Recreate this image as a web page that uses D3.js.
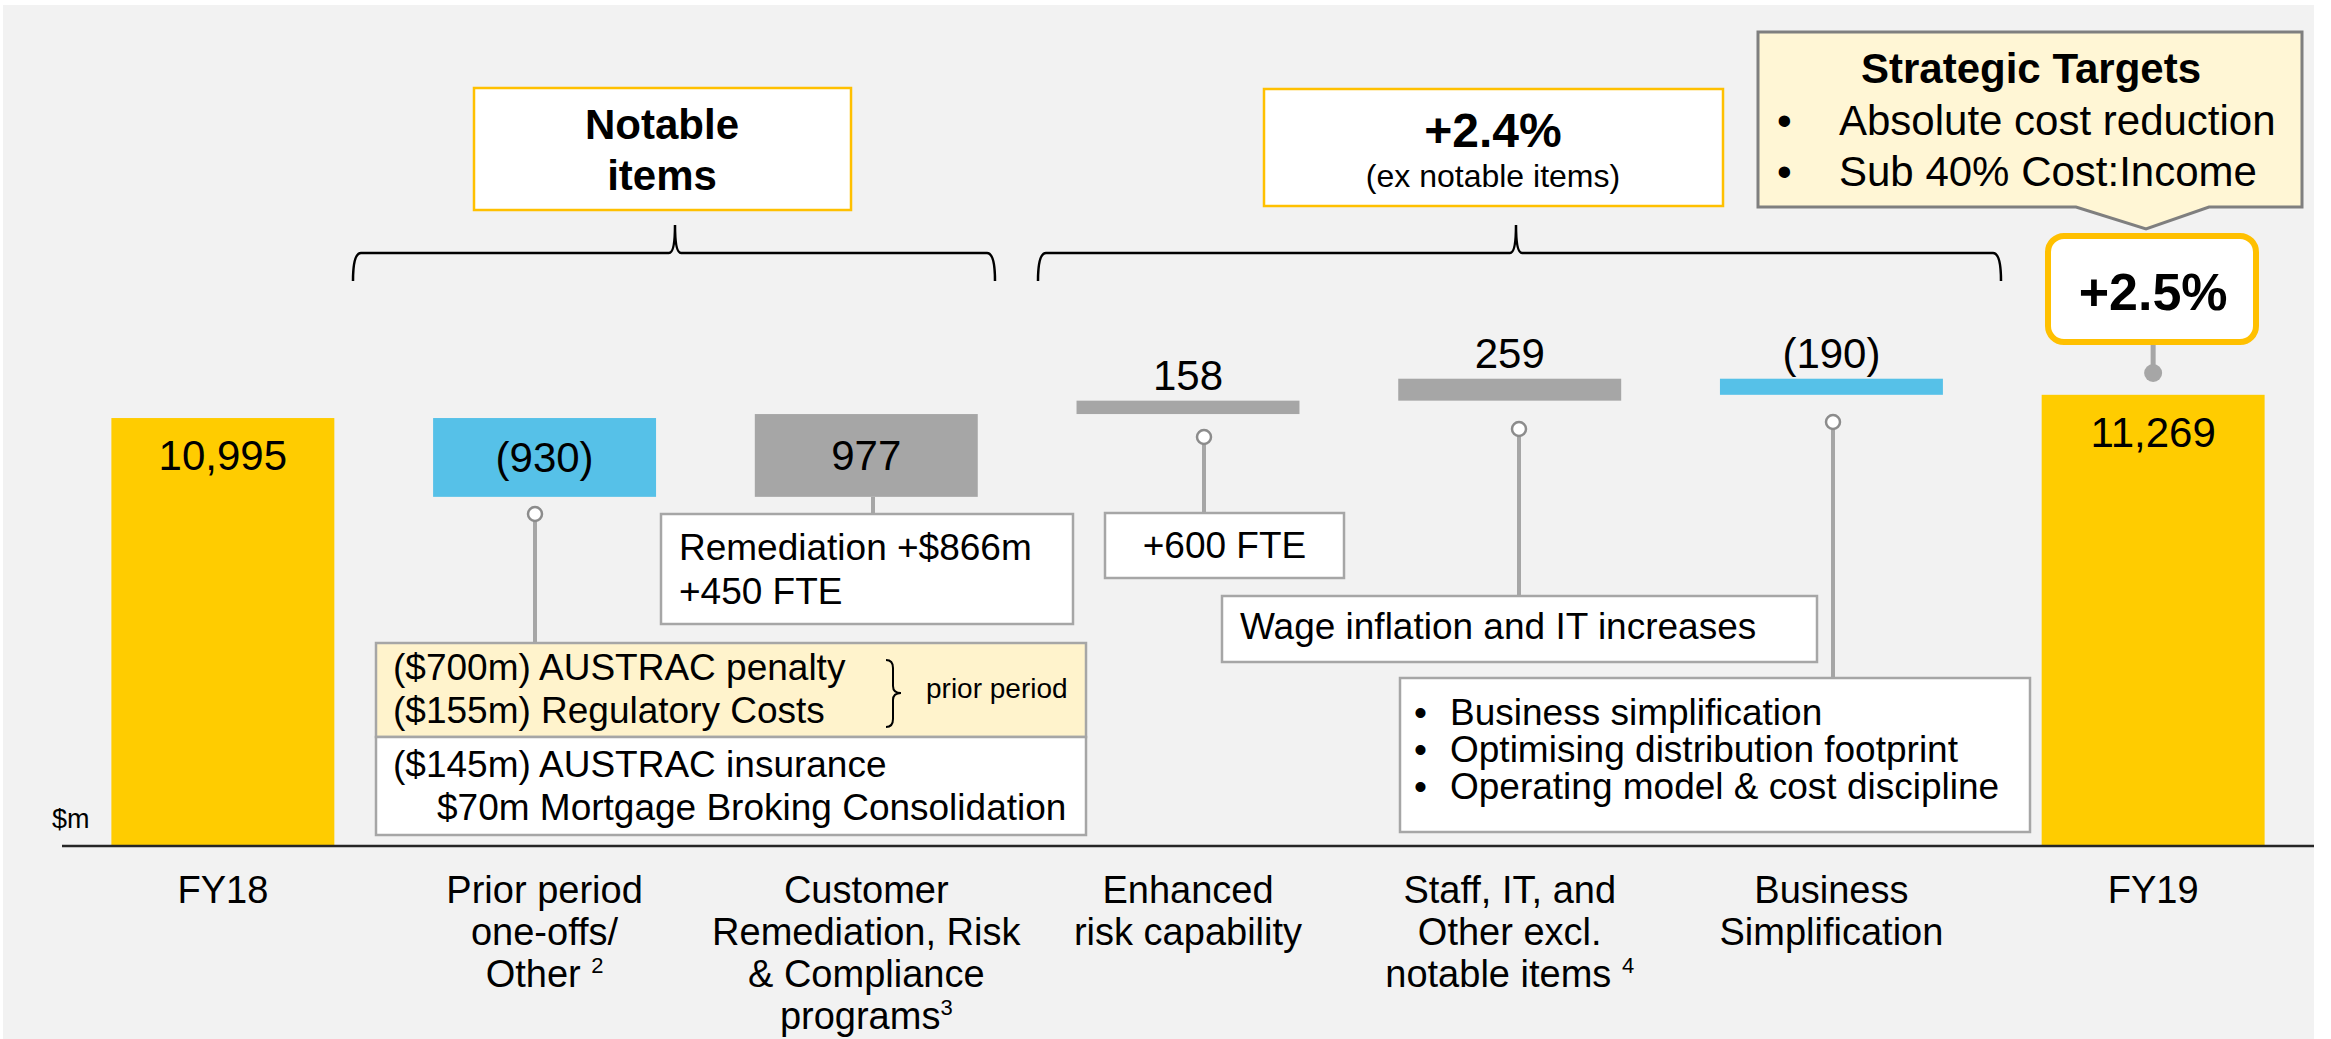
<!DOCTYPE html>
<html>
<head>
<meta charset="utf-8">
<script src="https://cdnjs.cloudflare.com/ajax/libs/d3/7.8.5/d3.min.js"></script>
<style>
  body { margin: 0; background: #ffffff; }
  svg text { font-family: "Liberation Sans", Arial, sans-serif; fill: #000; }
</style>
</head>
<body>
<div id="canvas"></div>
<script>
"use strict"

// DATA
let categories = ["FY18", "Prior period", "Customer Remediation", "Enhanced risk", "Staff IT Other", "Business Simplification", "FY19"]
let values = [10995, -930, 977, 158, 259, -190, 11269]
let kinds = ["total", "step", "step", "step", "step", "step", "total"]
let valueLabels = ["10,995", "(930)", "977", "158", "259", "(190)", "11,269"]
let tickLines = [
  ["FY18"],
  ["Prior period", "one-offs/", "Other "],
  ["Customer", "Remediation, Risk", "& Compliance", "programs"],
  ["Enhanced", "risk capability"],
  ["Staff, IT, and", "Other excl.", "notable items "],
  ["Business", "Simplification"],
  ["FY19"]
]
let tickNotes = [null, "2", "3", null, "4", null, null]

/* Configuration variables: drawing */
let svgWidth = 2331
let svgHeight = 1039
let baseY = 846
let axisFloor = 5945      // the value axis is cut, bars start here
let pxPerUnit = 1 / 11.8
let boxFont = 37

let svg = d3.select("#canvas")
  .append("svg")
  .attr("width", svgWidth)
  .attr("height", svgHeight)

// background panel
svg.append("rect")
  .attr("x", 3)
  .attr("y", 5)
  .attr("width", 2311)
  .attr("height", svgHeight - 5)
  .attr("fill", "#f2f2f2")

// SCALES
let xScale = d3.scaleBand()
  .domain(categories)
  .range([62, 2314])
  .paddingInner(0.307)
  .paddingOuter(0.1535)

let yScale = d3.scaleLinear()
  .domain([axisFloor, 11500])
  .range([baseY, baseY - (11500 - axisFloor) * pxPerUnit])

// waterfall start / end for every bar
let bars = []
let running = 0
for (let i = 0; i < values.length; i++) {
  if (kinds[i] == "total") {
    bars.push({ cat: categories[i], from: axisFloor, to: values[i], kind: "total", v: values[i], label: valueLabels[i] })
    running = values[i]
  } else {
    bars.push({ cat: categories[i], from: running, to: running + values[i], kind: "step", v: values[i], label: valueLabels[i] })
    running = running + values[i]
  }
}

function barColor(d) {
  if (d.kind == "total") return "#ffcc00"
  if (d.v < 0) return "#56c1e8"
  return "#a6a6a6"
}

// DRAW BARS
svg.selectAll("rect.bar")
  .data(bars)
  .join("rect")
  .attr("class", "bar")
  .attr("x", d => xScale(d.cat))
  .attr("width", xScale.bandwidth())
  .attr("y", d => yScale(Math.max(d.from, d.to)))
  .attr("height", d => Math.abs(yScale(d.from) - yScale(d.to)))
  .attr("fill", barColor)

// value labels
svg.selectAll("text.val")
  .data(bars)
  .join("text")
  .attr("class", "val")
  .attr("x", d => xScale(d.cat) + xScale.bandwidth() / 2)
  .attr("y", function (d) {
    let top = yScale(Math.max(d.from, d.to))
    let bottom = yScale(Math.min(d.from, d.to))
    if (d.kind == "total") return top + 52
    if (Math.abs(d.v) > 500) return (top + bottom) / 2 + 15
    return top - 11
  })
  .attr("text-anchor", "middle")
  .style("font-size", "42px")
  .text(d => d.label)

// AXIS LINE
svg.append("line")
  .attr("x1", 62)
  .attr("x2", 2314)
  .attr("y1", baseY)
  .attr("y2", baseY)
  .attr("stroke", "#262626")
  .attr("stroke-width", 2.5)

svg.append("text")
  .attr("x", 52)
  .attr("y", 828)
  .style("font-size", "27px")
  .text("$m")

// category labels
for (let i = 0; i < categories.length; i++) {
  let cx = xScale(categories[i]) + xScale.bandwidth() / 2
  let t = svg.append("text")
    .attr("text-anchor", "middle")
    .style("font-size", "38px")
  for (let j = 0; j < tickLines[i].length; j++) {
    t.append("tspan")
      .attr("x", cx)
      .attr("y", 903 + j * 42)
      .text(tickLines[i][j])
    if (j == tickLines[i].length - 1 && tickNotes[i]) {
      t.append("tspan")
        .attr("dy", -14)
        .style("font-size", "22px")
        .text(tickNotes[i])
    }
  }
}

// HELPERS FOR ANNOTATIONS
function box(x, y, w, h, fill, stroke, sw) {
  svg.append("rect")
    .attr("x", x).attr("y", y)
    .attr("width", w).attr("height", h)
    .attr("fill", fill)
    .attr("stroke", stroke)
    .attr("stroke-width", sw)
}

function label(x, y, txt, size, anchor, weight) {
  return svg.append("text")
    .attr("x", x).attr("y", y)
    .attr("text-anchor", anchor || "start")
    .style("font-size", size + "px")
    .style("font-weight", weight || "normal")
    .text(txt)
}

function connector(x, y1, y2, withCircle) {
  svg.append("line")
    .attr("x1", x).attr("x2", x)
    .attr("y1", y1).attr("y2", y2)
    .attr("stroke", "#a6a6a6")
    .attr("stroke-width", 4)
  if (withCircle) {
    svg.append("circle")
      .attr("cx", x).attr("cy", y1)
      .attr("r", 7)
      .attr("fill", "#ffffff")
      .attr("stroke", "#8c8c8c")
      .attr("stroke-width", 2.5)
  }
}

function brace(x1, x2, xm, yTop, yMid, yEnd) {
  let p = d3.path()
  p.moveTo(x1, yEnd)
  p.quadraticCurveTo(x1, yMid, x1 + 8, yMid)
  p.lineTo(xm - 6, yMid)
  p.quadraticCurveTo(xm, yMid, xm, yTop)
  p.quadraticCurveTo(xm, yMid, xm + 6, yMid)
  p.lineTo(x2 - 8, yMid)
  p.quadraticCurveTo(x2, yMid, x2, yEnd)
  svg.append("path")
    .attr("d", p.toString())
    .attr("fill", "none")
    .attr("stroke", "#000")
    .attr("stroke-width", 2.5)
}

// CONNECTORS
connector(535, 514, 643, true)
connector(873, 497, 514, false)
connector(1204, 437, 513, true)
connector(1519, 429, 596, true)
connector(1833, 422, 678, true)

// prior period box
box(376, 643, 710, 94, "#fff3cc", "#a6a6a6", 2.5)
box(376, 737, 710, 98, "#ffffff", "#a6a6a6", 2.5)
label(393, 680, "($700m) AUSTRAC penalty", boxFont)
label(393, 723, "($155m) Regulatory Costs", boxFont)
label(393, 777, "($145m) AUSTRAC insurance", boxFont)
label(437, 820, "$70m Mortgage Broking Consolidation", boxFont)
svg.append("path")
  .attr("d", "M886,660 Q893,660 893,668 L893,686 Q893,693 901,693 Q893,693 893,700 L893,719 Q893,727 886,727")
  .attr("fill", "none")
  .attr("stroke", "#000")
  .attr("stroke-width", 2)
label(926, 698, "prior period", 28)

// remediation box
box(661, 514, 412, 110, "#ffffff", "#a6a6a6", 2.5)
label(679, 560, "Remediation +$866m", boxFont)
label(679, 604, "+450 FTE", boxFont)

// risk capability box
box(1105, 513, 239, 65, "#ffffff", "#a6a6a6", 2.5)
label(1224.5, 558, "+600 FTE", boxFont, "middle")

// wage box
box(1222, 596, 595, 66, "#ffffff", "#a6a6a6", 2.5)
label(1240, 639, "Wage inflation and IT increases", boxFont)

// simplification box
box(1400, 678, 630, 154, "#ffffff", "#a6a6a6", 2.5)
let simpItems = ["Business simplification", "Optimising distribution footprint", "Operating model & cost discipline"]
for (let i = 0; i < simpItems.length; i++) {
  label(1414, 725 + i * 37, "\u2022", boxFont)
  label(1450, 725 + i * 37, simpItems[i], boxFont)
}

// HEADER BOXES AND BRACES
box(474, 88, 377, 122, "#ffffff", "#ffc000", 2.5)
label(662, 139, "Notable", 42, "middle", "bold")
label(662, 190, "items", 42, "middle", "bold")
brace(353, 995, 675, 225, 253, 281)

box(1264, 89, 459, 117, "#ffffff", "#ffc000", 2.5)
label(1493, 147, "+2.4%", 48, "middle", "bold")
label(1493, 187, "(ex notable items)", 32, "middle")
brace(1038, 2001, 1516, 225, 253, 281)

// strategic targets callout
svg.append("path")
  .attr("d", "M1758,32 L2302,32 L2302,207 L2209,207 L2146,229 L2076,207 L1758,207 Z")
  .attr("fill", "#fff6d5")
  .attr("stroke", "#7f7f7f")
  .attr("stroke-width", 3)
label(2031, 83, "Strategic Targets", 42, "middle", "bold")
label(1777, 135, "\u2022", 42)
label(1839, 135, "Absolute cost reduction", 42)
label(1777, 186, "\u2022", 42)
label(1839, 186, "Sub 40% Cost:Income", 42)

// FY19 growth badge
let fy19x = xScale("FY19") + xScale.bandwidth() / 2
svg.append("line")
  .attr("x1", fy19x).attr("x2", fy19x)
  .attr("y1", 345).attr("y2", 373)
  .attr("stroke", "#a6a6a6")
  .attr("stroke-width", 5)
svg.append("circle")
  .attr("cx", fy19x).attr("cy", 373)
  .attr("r", 9)
  .attr("fill", "#a6a6a6")
svg.append("rect")
  .attr("x", 2048).attr("y", 236)
  .attr("width", 208).attr("height", 106)
  .attr("rx", 16)
  .attr("fill", "#ffffff")
  .attr("stroke", "#ffc000")
  .attr("stroke-width", 6)
label(fy19x, 310, "+2.5%", 52, "middle", "bold")
</script>
</body>
</html>
